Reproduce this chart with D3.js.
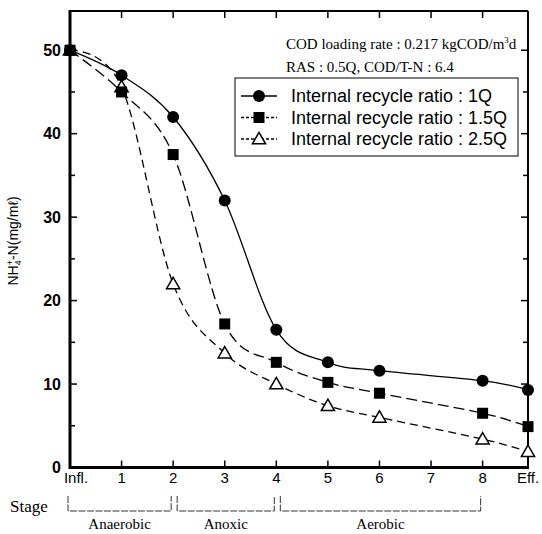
<script src="https://cdn.jsdelivr.net/npm/d3@7"></script>
<body style="margin:0;background:#fff">
<script>
  // stage axis
  const tickLabels = ["Infl.", "1", "2", "3", "4", "5", "6", "7", "8", "Eff."];
  const tickPos = [0, 1, 2, 3, 4, 5, 6, 7, 8, 8.88];
  // sampled stages (no sample at stage 7)
  const pointPos = [0, 1, 2, 3, 4, 5, 6, 8, 8.88];
  // NH4+-N (mg/l)
  const ratio1Q = [50, 47, 42, 32, 16.5, 12.6, 11.6, 10.4, 9.3];
  const ratio15Q = [50, 45, 37.5, 17.2, 12.6, 10.2, 8.9, 6.5, 4.9];
  const ratio25Q = [50, 45.6, 22, 13.7, 10, 7.4, 6, 3.4, 1.9];
  const seriesNames = ["Internal recycle ratio : 1Q", "Internal recycle ratio : 1.5Q", "Internal recycle ratio : 2.5Q"];
  const yTicks = [0, 10, 20, 30, 40, 50];
  const zones = [["Anaerobic", 0, 2], ["Anoxic", 2, 4], ["Aerobic", 4, 8]];

  const width = 542, height = 534;
  const x = d3.scaleLinear().domain([0, 8.88]).range([70, 528]);
  const y = d3.scaleLinear().domain([0, 54.7]).range([467.5, 11]);

  const svg = d3.select("body").append("svg")
    .attr("width", width).attr("height", height)
    .style("font-family", "'Liberation Sans', Arial, sans-serif");

  const series = [
    {name: seriesNames[0], values: ratio1Q, dash: null, shape: "circle"},
    {name: seriesNames[1], values: ratio15Q, dash: "11,5", shape: "square"},
    {name: seriesNames[2], values: ratio25Q, dash: "8,5", shape: "triangle"}
  ];

  // frame
  const x0 = x.range()[0], x1 = x.range()[1], y0 = y.range()[0], y1 = y.range()[1];
  svg.append("line").attr("x1", x0).attr("x2", x1).attr("y1", y1).attr("y2", y1).attr("stroke", "#000").attr("stroke-width", 2);
  svg.append("line").attr("x1", x1).attr("x2", x1).attr("y1", y1).attr("y2", y0).attr("stroke", "#000").attr("stroke-width", 2);
  svg.append("line").attr("x1", x0).attr("x2", x1 + 1).attr("y1", y0).attr("y2", y0).attr("stroke", "#000").attr("stroke-width", 3);
  svg.append("line").attr("x1", x0).attr("x2", x0).attr("y1", y1 - 1).attr("y2", y0 + 1.5).attr("stroke", "#000").attr("stroke-width", 3);

  // y ticks (major + minor, both sides, inward)
  d3.range(0, 55, 5).forEach(function(v) {
    const len = v % 10 === 0 ? 7 : 5;
    svg.append("line").attr("x1", x0).attr("x2", x0 + len).attr("y1", y(v)).attr("y2", y(v)).attr("stroke", "#000").attr("stroke-width", 1.5);
    svg.append("line").attr("x1", x1).attr("x2", x1 - len).attr("y1", y(v)).attr("y2", y(v)).attr("stroke", "#000").attr("stroke-width", 1.5);
  });
  svg.selectAll(".ylab").data(yTicks).enter().append("text")
    .attr("x", 61).attr("y", d => y(d)).attr("dy", "0.36em")
    .attr("text-anchor", "end").attr("font-size", "16px").attr("font-weight", "bold")
    .text(d => d);

  // x ticks top and bottom
  tickPos.slice(1, 9).forEach(function(p) {
    svg.append("line").attr("x1", x(p)).attr("x2", x(p)).attr("y1", y0).attr("y2", y0 - 7).attr("stroke", "#000").attr("stroke-width", 1.5);
    svg.append("line").attr("x1", x(p)).attr("x2", x(p)).attr("y1", y1).attr("y2", y1 + 7).attr("stroke", "#000").attr("stroke-width", 1.5);
  });
  svg.selectAll(".xlab").data(tickLabels).enter().append("text")
    .attr("x", (d, i) => x(tickPos[i]) + (i === 0 ? 6 : 0))
    .attr("y", 483).attr("text-anchor", "middle").attr("font-size", "15px")
    .text(d => d);

  // y title
  const yt = svg.append("text").attr("transform", "translate(18,241) rotate(-90)")
    .attr("text-anchor", "middle").attr("font-size", "14px");
  yt.append("tspan").text("NH");
  yt.append("tspan").attr("font-size", "9px").attr("dy", 3).text("4");
  yt.append("tspan").attr("font-size", "9px").attr("dy", -8).attr("dx", -5).text("+");
  yt.append("tspan").attr("dy", 5).text("-N(mg/mℓ)");

  // lines
  const line = d3.line().x((d, i) => x(pointPos[i])).y(d => y(d)).curve(d3.curveCatmullRom.alpha(0));
  series.forEach(function(s) {
    svg.append("path").attr("d", line(s.values)).attr("fill", "none")
      .attr("stroke", "#000").attr("stroke-width", 1.3)
      .attr("stroke-dasharray", s.dash);
  });

  function marker(g, shape, cx, cy) {
    if (shape === "circle") {
      g.append("circle").attr("cx", cx).attr("cy", cy).attr("r", 6).attr("fill", "#000");
    } else if (shape === "square") {
      g.append("rect").attr("x", cx - 5.5).attr("y", cy - 5.5).attr("width", 11).attr("height", 11).attr("fill", "#000");
    } else {
      g.append("path").attr("d", d3.symbol(d3.symbolTriangle, 75)()).attr("transform", "translate(" + cx + "," + (cy + 1) + ")")
        .attr("fill", "#fff").attr("stroke", "#000").attr("stroke-width", 1.5);
    }
  }
  series.slice().reverse().forEach(function(s) {
    s.values.forEach(function(v, i) { marker(svg, s.shape, x(pointPos[i]), y(v)); });
  });

  // annotation
  const ann = svg.append("g").style("font-family", "'Liberation Serif', 'Times New Roman', serif").attr("font-size", "15px");
  const a1 = ann.append("text").attr("x", 286).attr("y", 49);
  a1.append("tspan").text("COD loading rate : 0.217 kgCOD/m");
  a1.append("tspan").attr("font-size", "9px").attr("dy", -6).text("3");
  a1.append("tspan").attr("dy", 6).text("d");
  ann.append("text").attr("x", 286).attr("y", 72).text("RAS : 0.5Q, COD/T-N : 6.4");

  // legend
  const lg = svg.append("g");
  lg.append("rect").attr("x", 235).attr("y", 78).attr("width", 283).attr("height", 78)
    .attr("fill", "#fff").attr("stroke", "#000").attr("stroke-width", 1);
  series.forEach(function(s, i) {
    const ly = 96 + i * 21.5;
    lg.append("line").attr("x1", 241).attr("x2", 277).attr("y1", ly).attr("y2", ly)
      .attr("stroke", "#000").attr("stroke-width", 1.3).attr("stroke-dasharray", s.dash ? "3,2" : null);
    marker(lg, s.shape, 259, ly);
    lg.append("text").attr("x", 291).attr("y", ly).attr("dy", "0.36em").attr("font-size", "18px").text(s.name);
  });

  // stage brackets
  svg.append("text").attr("x", 10).attr("y", 512).attr("font-size", "17px")
    .style("font-family", "'Liberation Serif', serif").text("Stage");
  zones.forEach(function(z) {
    const a = x(z[1]) + (z[1] === 0 ? -2 : 4), b = x(z[2]) - 2;
    svg.append("path").attr("d", "M" + a + ",496V511H" + b + "V496")
      .attr("fill", "none").attr("stroke", "#333").attr("stroke-width", 1)
      .attr("stroke-dasharray", "7,1.5");
    svg.append("text").attr("x", (a + b) / 2).attr("y", 529).attr("text-anchor", "middle")
      .attr("font-size", "15px").style("font-family", "'Liberation Serif', serif").text(z[0]);
  });
</script>
</body>
